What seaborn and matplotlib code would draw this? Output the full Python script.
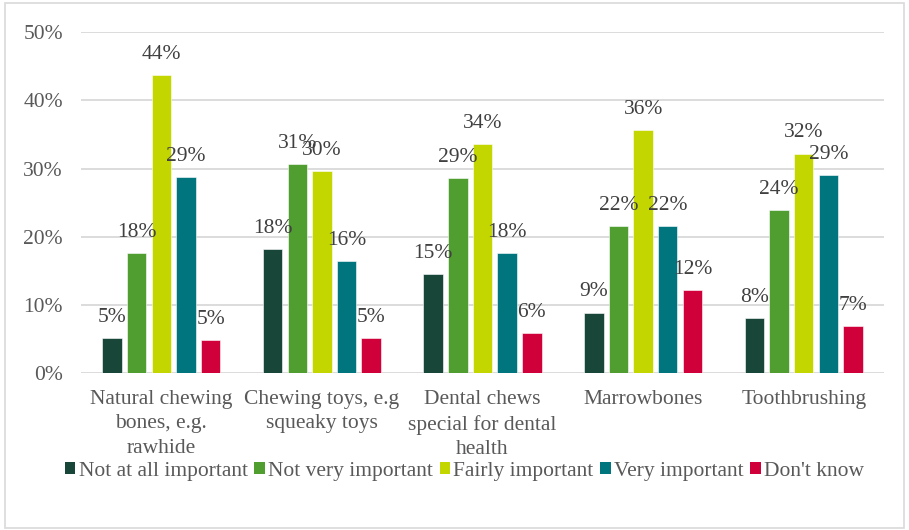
import matplotlib
matplotlib.use("Agg")
import matplotlib.pyplot as plt
from matplotlib.patches import Patch, Rectangle
import seaborn as sns
import pandas as pd

categories = [
    "Natural chewing\nbones, e.g.\nrawhide",
    "Chewing toys, e.g\nsqueaky toys",
    "Dental chews\nspecial for dental\nhealth",
    "Marrowbones",
    "Toothbrushing",
]
series = ["Not at all important", "Not very important", "Fairly important",
          "Very important", "Don't know"]

not_at_all = [5.1, 18.2, 14.6, 8.9, 8.1]
not_very = [17.6, 30.7, 28.6, 21.6, 23.9]
fairly = [43.7, 29.6, 33.6, 35.7, 32.2]
very = [28.7, 16.4, 17.6, 21.6, 29.0]
dont_know = [4.9, 5.1, 5.9, 12.2, 6.9]

values = [not_at_all, not_very, fairly, very, dont_know]
colors = ["#18473A", "#519E30", "#C4D600", "#00757E", "#D0003A"]
yticks = [0, 10, 20, 30, 40, 50]

rows = []
for s, vals in zip(series, values):
    for c, v in zip(categories, vals):
        rows.append({"Category": c, "Series": s, "Value": v})
df = pd.DataFrame(rows)

sns.set_theme(style="white")
FAMILY = ["Liberation Serif", "DejaVu Serif"]
plt.rcParams["font.family"] = FAMILY

FS = 15.5
fig = plt.figure(figsize=(9.09, 5.30), dpi=100)
ax = fig.add_axes([0.0891, 0.2957, 0.8834, 0.6439])

sns.barplot(data=df, x="Category", y="Value", hue="Series",
            order=categories, hue_order=series, palette=colors,
            width=0.767, gap=0.21, saturation=1, legend=False,
            edgecolor="white", linewidth=0.4, ax=ax)

for cont, vals in zip(ax.containers, values):
    ax.bar_label(cont, labels=[f"{v:.0f}%" for v in vals], padding=8,
                 fontsize=FS, color="#404040", family=FAMILY)

ax.set_ylim(0, 50)
ax.set_xlim(-0.5, len(categories) - 0.5)
ax.set_yticks(yticks)
ax.set_yticklabels([f"{t}%" for t in yticks])
ax.yaxis.grid(True, color="#d9d9d9", linewidth=1.3)
ax.set_axisbelow(True)
for sp in ax.spines.values():
    sp.set_visible(False)
ax.tick_params(axis="y", length=0, pad=13, labelsize=FS, labelcolor="#595959")
ax.tick_params(axis="x", length=0, pad=12, labelsize=FS, labelcolor="#595959")
for lbl in ax.get_xticklabels() + ax.get_yticklabels():
    lbl.set_family(FAMILY)
for lbl in ax.get_xticklabels():
    lbl.set_linespacing(1.38)
ax.set_xlabel("")
ax.set_ylabel("")

handles = [Patch(facecolor=c, edgecolor="none") for c in colors]
fig.legend(handles, series, loc="center", bbox_to_anchor=(0.511, 0.111),
           ncol=5, frameon=False, prop={"family": FAMILY, "size": FS},
           handlelength=0.5, handleheight=0.5, handletextpad=0.15,
           columnspacing=0.3, labelcolor="#595959")

fig.patches.append(Rectangle((0.005, 0.004), 0.99, 0.99, transform=fig.transFigure,
                             fill=False, edgecolor="#d9d9d9", linewidth=1.2))

fig.savefig("out.png", dpi=100)
